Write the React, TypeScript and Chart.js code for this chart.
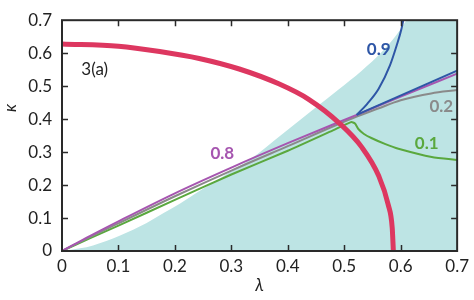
import React, { useEffect, useRef } from "react";
import { Chart, registerables } from "chart.js";

Chart.register(...registerables);

// ---- tick values / labels ----
const xTicks = [0, 0.1, 0.2, 0.3, 0.4, 0.5, 0.6, 0.7];
const yTicks = [0, 0.1, 0.2, 0.3, 0.4, 0.5, 0.6, 0.7];
const xTickLabels = ["0", "0.1", "0.2", "0.3", "0.4", "0.5", "0.6", "0.7"];
const yTickLabels = ["0", "0.1", "0.2", "0.3", "0.4", "0.5", "0.6", "0.7"];
const xTitle = "λ";
const yTitle = "κ";

// ---- series (λ, κ) ----
const redCurve = [
  [0, 0.628], [0.1, 0.621], [0.173, 0.605], [0.243, 0.584], [0.314, 0.552],
  [0.384, 0.507], [0.437, 0.46], [0.493, 0.385], [0.531, 0.315],
  [0.561, 0.228], [0.578, 0.14], [0.585, 0.07], [0.587, 0],
];
const tealBoundary = [
  [0, 0], [0.032, 0.008], [0.055, 0.017], [0.102, 0.046], [0.15, 0.085],
  [0.18, 0.115], [0.21, 0.145], [0.24, 0.178], [0.27, 0.21], [0.3, 0.243],
  [0.332, 0.276], [0.39, 0.354], [0.45, 0.436], [0.49, 0.49], [0.531, 0.547],
  [0.566, 0.603], [0.59, 0.65], [0.61, 0.7], [0.625, 0.75], [0.7, 0.8],
];
const purpleCurve = [
  [0, 0], [0.05, 0.046], [0.1, 0.09], [0.2, 0.175], [0.3, 0.253],
  [0.4, 0.327], [0.522, 0.413], [0.6, 0.468], [0.7, 0.538],
];
const grayCurve = [
  [0, 0], [0.05, 0.043], [0.1, 0.084], [0.2, 0.166], [0.3, 0.244],
  [0.4, 0.318], [0.522, 0.408], [0.56, 0.432], [0.6, 0.457], [0.654, 0.478],
  [0.7, 0.488],
];
const greenCurve = [
  [0, 0], [0.05, 0.039], [0.1, 0.077], [0.2, 0.155], [0.3, 0.232],
  [0.4, 0.304], [0.48, 0.366], [0.512, 0.391], [0.519, 0.387],
  [0.525, 0.37], [0.535, 0.355], [0.549, 0.342], [0.573, 0.324], [0.596, 0.31],
  [0.655, 0.285], [0.7, 0.276],
];
const blueBranch = [
  [0.522, 0.413], [0.54, 0.445], [0.561, 0.492], [0.581, 0.563],
  [0.593, 0.624], [0.601, 0.671], [0.607, 0.72],
];
const blueLine = [
  [0.522, 0.413], [0.7, 0.547],
];

// ---- annotations ----
const curveLabels = [
  { text: "0.9", x: 0.561, y: 0.61, color: "#2e56a6" },
  { text: "0.2", x: 0.672, y: 0.438, color: "#8a8a8a" },
  { text: "0.1", x: 0.646, y: 0.327, color: "#5aa83e" },
  { text: "0.8", x: 0.284, y: 0.295, color: "#a656b0" },
];
const panelLabel = { text: "3(a)", x: 0.058, y: 0.55 };

const FONT = "Lato, 'Noto Sans', sans-serif";

const toPts = (arr: number[][]) => arr.map(([x, y]) => ({ x, y }));

const framePlugin = {
  id: "framePlugin",
  afterDatasetsDraw(chart: any) {
    const { ctx, chartArea: a, scales } = chart;
    const xs = scales.x;
    const ys = scales.y;
    ctx.save();
    // annotations
    ctx.textAlign = "center";
    ctx.textBaseline = "middle";
    ctx.font = `bold 17px ${FONT}`;
    for (const l of curveLabels) {
      ctx.fillStyle = l.color;
      ctx.fillText(l.text, xs.getPixelForValue(l.x), ys.getPixelForValue(l.y));
    }
    ctx.font = `17px ${FONT}`;
    ctx.fillStyle = "#222";
    ctx.fillText(panelLabel.text, xs.getPixelForValue(panelLabel.x), ys.getPixelForValue(panelLabel.y));

    // frame
    ctx.strokeStyle = "#2a2a2a";
    ctx.lineWidth = 2;
    ctx.strokeRect(a.left, a.top, a.right - a.left, a.bottom - a.top);
    // inward ticks
    ctx.lineWidth = 1.5;
    ctx.beginPath();
    const tl = 6;
    for (const v of xTicks) {
      const px = Math.round(xs.getPixelForValue(v)) + 0.5;
      if (px <= a.left + 2 || px >= a.right - 2) continue;
      ctx.moveTo(px, a.bottom);
      ctx.lineTo(px, a.bottom - tl);
      ctx.moveTo(px, a.top);
      ctx.lineTo(px, a.top + tl);
    }
    for (const v of yTicks) {
      const py = Math.round(ys.getPixelForValue(v)) + 0.5;
      if (py <= a.top + 2 || py >= a.bottom - 2) continue;
      ctx.moveTo(a.left, py);
      ctx.lineTo(a.left + tl, py);
      ctx.moveTo(a.right, py);
      ctx.lineTo(a.right - tl, py);
    }
    ctx.stroke();

    // y title
    ctx.translate(11, 108);
    ctx.rotate(-Math.PI / 2);
    ctx.font = `italic 17px ${FONT}`;
    ctx.fillStyle = "#222";
    ctx.fillText(yTitle, 0, 0);
    ctx.restore();
  },
};

export default function App() {
  const ref = useRef<HTMLCanvasElement | null>(null);
  useEffect(() => {
    if (!ref.current) return;
    const lineDs = (data: number[][], color: string, width: number, mode: string, tension = 0.3) => ({
      data: toPts(data),
      borderColor: color,
      borderWidth: width,
      pointRadius: 0,
      fill: false,
      tension,
      cubicInterpolationMode: mode,
    });
    const chart = new Chart(ref.current, {
      type: "line",
      data: {
        datasets: [
          lineDs(redCurve, "#dd3760", 5, "monotone"),
          lineDs(blueBranch, "#2e56a6", 2, "monotone"),
          lineDs(blueLine, "#2e56a6", 2, "default", 0),
          lineDs(purpleCurve, "#a656b0", 2, "monotone"),
          lineDs(grayCurve, "#8a8a8a", 2, "monotone"),
          lineDs(greenCurve, "#5aa83e", 2, "default", 0.2),
          {
            data: toPts(tealBoundary),
            borderWidth: 0,
            borderColor: "rgba(0,0,0,0)",
            backgroundColor: "#bde4e4",
            pointRadius: 0,
            fill: "origin",
            cubicInterpolationMode: "monotone",
          },
        ],
      },
      options: {
        animation: false,
        responsive: false,
        layout: { padding: { top: 7, right: 16, left: 0, bottom: 0 } },
        plugins: { legend: { display: false }, tooltip: { enabled: false } },
        scales: {
          x: {
            type: "linear",
            min: 0,
            max: 0.7,
            afterBuildTicks: (s: any) => {
              s.ticks = xTicks.map((v) => ({ value: v }));
            },
            afterFit: (s: any) => {
              s.height = 49;
            },
            ticks: {
              callback: (v: any) => xTickLabels[Math.round(Number(v) * 10)],
              padding: 5,
              color: "#222",
              font: { size: 17, family: FONT },
              maxRotation: 0,
              autoSkip: false,
            },
            grid: { display: false, drawTicks: false },
            border: { display: false },
            title: {
              display: true,
              text: xTitle,
              color: "#222",
              font: { size: 17, style: "italic", family: FONT },
              padding: { top: 0, bottom: 4 },
            },
          },
          y: {
            type: "linear",
            min: 0,
            max: 0.7,
            afterBuildTicks: (s: any) => {
              s.ticks = yTicks.map((v) => ({ value: v }));
            },
            afterFit: (s: any) => {
              s.width = 62;
            },
            ticks: {
              callback: (v: any) => yTickLabels[Math.round(Number(v) * 10)],
              padding: 10,
              color: "#222",
              font: { size: 17, family: FONT },
              autoSkip: false,
            },
            grid: { display: false, drawTicks: false },
            border: { display: false },
          },
        },
      },
      plugins: [framePlugin],
    } as any);
    return () => chart.destroy();
  }, []);
  return (
    <div style={{ position: "absolute", left: 0, top: 0, width: 474, height: 300, background: "#fff" }}>
      <canvas ref={ref} width={474} height={300} style={{ display: "block" }} />
    </div>
  );
}
